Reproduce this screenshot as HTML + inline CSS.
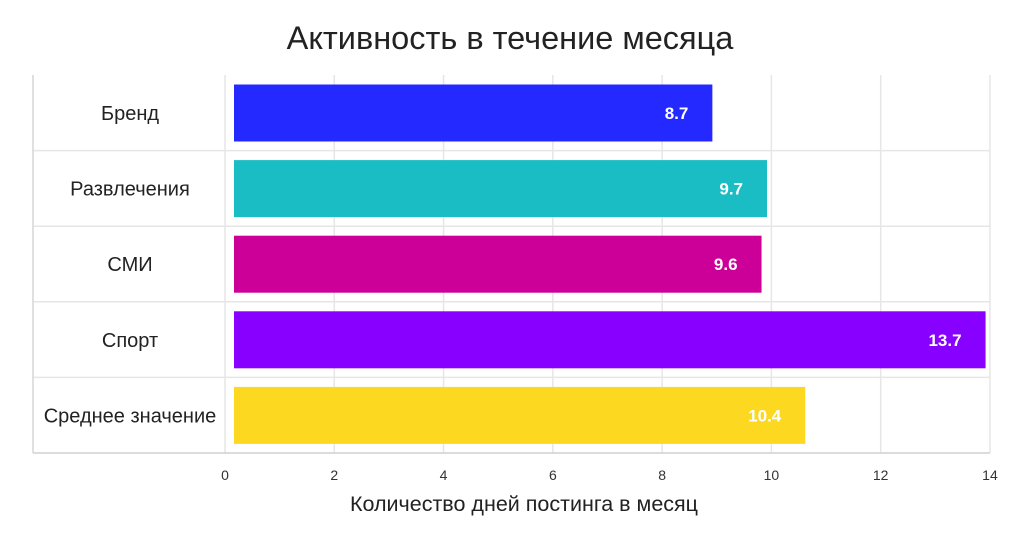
<!DOCTYPE html>
<html><head><meta charset="utf-8"><style>
body{margin:0;background:#fff;}
svg text{font-family:"Liberation Sans","DejaVu Sans",sans-serif;}
</style></head><body>
<svg width="1024" height="536" viewBox="0 0 1024 536" xmlns="http://www.w3.org/2000/svg">
<text x="510" y="49" text-anchor="middle" font-size="32.5" fill="#222">Активность в течение месяца</text>
<g id="grid"></g>
<g id="bars"></g>
<g id="xticks"></g>
<text x="524" y="511" text-anchor="middle" font-size="21.5" fill="#222">Количество дней постинга в месяц</text>
</svg>
<script>
const categories=["Бренд","Развлечения","СМИ","Спорт","Среднее значение"];
const values=[8.7,9.7,9.6,13.7,10.4];
const valueLabels=["8.7","9.7","9.6","13.7","10.4"];
const colors=["#2329ff","#1abdc4","#cc0099","#8800ff","#fcd920"];
const tickValues=[0,2,4,6,8,10,12,14];
const NS="http://www.w3.org/2000/svg";
const plotTop=75,rowH=75.6,plotLeft=33,plotRight=990;
function xs(v){return 225+v*54.64;}
function mk(t,a,p){const e=document.createElementNS(NS,t);for(const k in a)e.setAttribute(k,a[k]);p.appendChild(e);return e;}
const grid=document.getElementById('grid'),bars=document.getElementById('bars'),xt=document.getElementById('xticks');
tickValues.forEach(v=>{
 const l=mk('line',{x1:xs(v),x2:xs(v),y1:plotTop,y2:plotTop+rowH*5,stroke:'#e6e6e6','stroke-width':1.5},grid);
 
 
 const t=mk('text',{x:xs(v),y:480,'text-anchor':'middle','font-size':14,fill:'#333'},xt);
 t.textContent=v;
 
 
});
for(let i=1;i<5;i++){
 const l=mk('line',{x1:plotLeft,x2:plotRight,y1:plotTop+rowH*i,y2:plotTop+rowH*i,stroke:'#e6e6e6','stroke-width':1.5},grid);
 
 
}
const la=mk('line',{x1:plotLeft,x2:plotLeft,y1:plotTop,y2:plotTop+rowH*5,stroke:'#d6d6d6','stroke-width':1.5},grid);


const ba=mk('line',{x1:plotLeft,x2:plotRight,y1:plotTop+rowH*5,y2:plotTop+rowH*5,stroke:'#d0d0d0','stroke-width':1.5},grid);


categories.forEach((c,i)=>{
 const y0=plotTop+rowH*i;
 const r=mk('rect',{x:xs(0)+9,y:y0+9.5,width:xs(values[i])+12-(xs(0)+9),height:57,fill:colors[i]},bars);
 
 
 const t=mk('text',{x:xs(values[i])+12-24,y:y0+44,'text-anchor':'end','font-size':17,'font-weight':'bold',fill:'#fff'},bars);
 t.textContent=valueLabels[i];
 
 
 const yl=mk('text',{x:130,y:y0+45,'text-anchor':'middle','font-size':20,fill:'#222'},bars);
 yl.textContent=c;
 
 
});
</script>
</body></html>
